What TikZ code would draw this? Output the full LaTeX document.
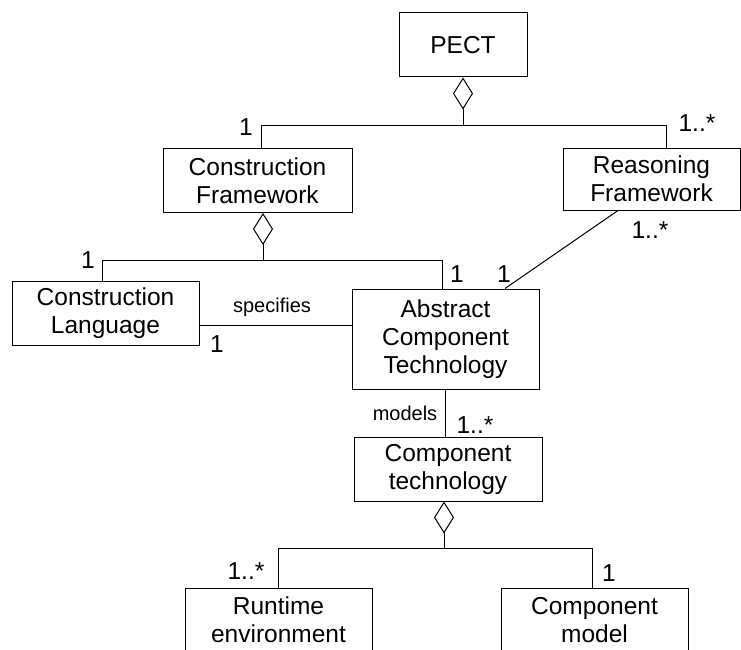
\documentclass[tikz,border=0pt]{standalone}
\usepackage{fontspec}
\setmainfont{Liberation Sans}
\usepackage{tikz}
\usetikzlibrary{calc,arrows.meta}
\tikzstyle{classbox} = [
    draw,
    line width=1pt,
    rectangle,
    align=center,
    inner sep=0pt,
    minimum height=64pt,
    font=\fontsize{24.5}{28}\selectfont
    ]
\tikzstyle{mult} = [
    inner sep=0pt,
    font=\fontsize{24.5}{28}\selectfont
    ]
\tikzstyle{rolename} = [
    inner sep=0pt,
    font=\fontsize{20}{24}\selectfont
    ]
\tikzstyle{link} = [line width=1pt]
\tikzstyle{aggr} = [link, -{Diamond[open, length=32pt, width=20pt]}]

\begin{document}
\begin{tikzpicture}[x=1pt, y=-1pt]
\useasboundingbox (0,0) rectangle (741,650);
\clip (0,0) rectangle (741,650);
% classes
\node[classbox, minimum width=128pt] (pect) at (463,45) {PECT};
\node[classbox, minimum width=189pt] (cf) at (257.5,180.5) {Construction\\Framework};
\node[classbox, minimum width=177pt, minimum height=62pt] (rf) at (651.5,179) {Reasoning\\Framework};
\node[classbox, minimum width=187pt] (cl) at (105.5,313) {Construction\\Language};
\node[classbox, minimum width=187pt, minimum height=100pt] (act) at (445.5,339) {Abstract\\Component\\Technology};
\node[classbox, minimum width=188pt] (ct) at (448,469) {Component\\technology};
\node[classbox, minimum width=187pt] (rte) at (278.5,620) {Runtime\\environment};
\node[classbox, minimum width=187pt] (cm) at (594.5,620) {Component\\model};

% aggregations
\coordinate (pectjoin) at ($(pect.south)+(0,48)$);
\draw[aggr] (pectjoin) -- (pect.south);
\draw[link] (pectjoin) -| ([xshift=3.5pt]cf.north);
\draw[link] (pectjoin) -| ([xshift=14.5pt]rf.north);

\coordinate (cfjoin) at ($(cf.south)+(5.5,47)$);
\draw[aggr] (cfjoin) -- (cfjoin |- cf.south);
\draw[link] (cfjoin) -| ([xshift=-3.5pt]cl.north);
\draw[link] (cfjoin) -| ([xshift=-3.5pt]act.north);

\coordinate (ctjoin) at ($(ct.south)+(-4,47)$);
\draw[aggr] (ctjoin) -- (ctjoin |- ct.south);
\draw[link] (ctjoin) -| (rte.north);
\draw[link] (ctjoin) -| ([xshift=-2.5pt]cm.north);

% associations
\draw[link] ([xshift=-33.5pt]rf.south) -- ([xshift=59.5pt]act.north);
\draw[link] ([yshift=-12pt]cl.east) -- ([yshift=-12pt]cl.east -| act.west);
\draw[link] (act.south) -- (act.south |- ct.north);

% labels
\node[mult] (mcf) at (246,127) {1};
\node[mult] (mrf) at (697,123) {1..*};
\node[mult] (mcl) at (88,260) {1};
\node[mult] (mactcf) at (457,274) {1};
\node[mult] (mactrf) at (504,274) {1};
\node[mult] (mrfact) at (650,230) {1..*};
\node[rolename] (spec) at (272,307) {specifies};
\node[mult] (mspec) at (217,344) {1};
\node[rolename] (mod) at (405,413) {models};
\node[mult] (mct) at (475,425) {1..*};
\node[mult] (mrte) at (246,571) {1..*};
\node[mult] (mcm) at (609,573) {1};
\end{tikzpicture}
\end{document}
